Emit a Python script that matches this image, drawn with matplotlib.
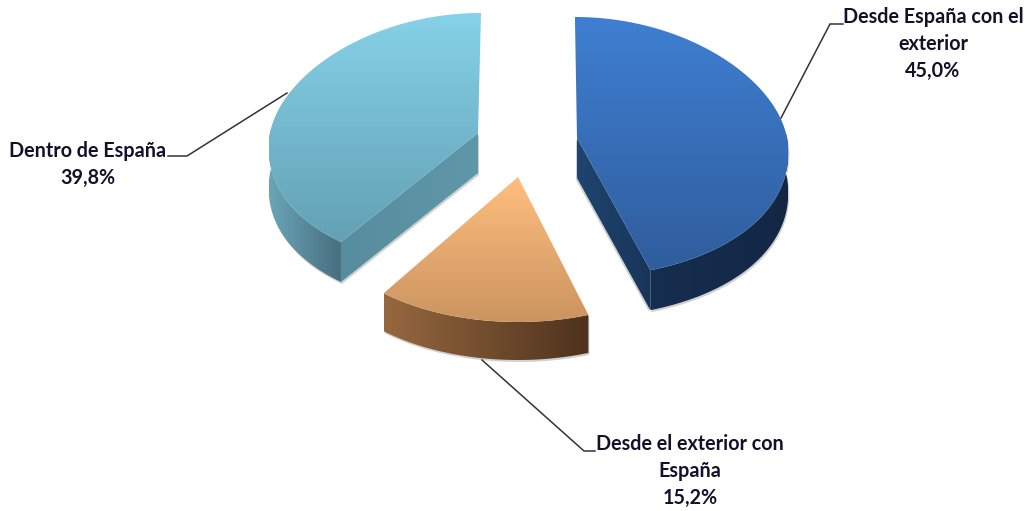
import matplotlib
matplotlib.use('Agg')
import matplotlib.pyplot as plt
import numpy as np
from matplotlib.colors import LinearSegmentedColormap
from matplotlib.patches import Polygon

# datos
etiquetas = ['Desde España con el\nexterior', 'Desde el exterior con\nEspaña', 'Dentro de España']
valores = [45.0, 15.2, 39.8]

# geometria de cada porcion (pixeles de la imagen)
centros = [(577, 138), (518, 177), (478, 133)]
radios_x = [210, 208, 208]
radios_y_arriba = [121, 121, 120]
radios_y_abajo = [139, 145, 136]
inclinacion = [-0.017, 0, 0.025]
fondo = [40, 38, 40]
perspectiva = 0.1

# colores: tapa (arriba, abajo), lado exterior (izq, der), pared del corte (izq, der)
tapas = [('#3F7FD2', '#2F5D9C'), ('#FFBE7E', '#CB9460'), ('#86D2E8', '#63A0B4')]
lados = [('#162E50', '#132745'), ('#96683F', '#4E321D'), ('#6BA5B8', '#466E7E')]
paredes = [('#1F4570', '#183558'), None, ('#578C9E', '#5F98AA')]

fig = plt.figure(figsize=(10.31, 5.11), dpi=100)
ax = fig.add_axes([0, 0, 1, 1])


def punto(i, t):
    cx, cy = centros[i]
    ry = np.where(np.cos(t) > 0, radios_y_arriba[i], radios_y_abajo[i])
    factor = 1 - perspectiva * np.cos(t)
    yy = cy - ry * np.cos(t)
    return cx + radios_x[i] * np.sin(t) * factor + inclinacion[i] * (cy - yy), yy


def degradado(pts, c1, c2, horizontal, zorder):
    pts = np.array(pts)
    cmap = LinearSegmentedColormap.from_list('g', [c1, c2])
    grad = np.linspace(0, 1, 256)
    grad = grad.reshape(1, -1) if horizontal else grad.reshape(-1, 1)
    x0, x1, y0, y1 = pts[:, 0].min(), pts[:, 0].max(), pts[:, 1].min(), pts[:, 1].max()
    im = ax.imshow(grad, cmap=cmap, extent=(x0, x1, y1, y0), aspect='auto', origin='upper',
                   zorder=zorder, interpolation='bilinear')
    parche = Polygon(pts, closed=True, transform=ax.transData, fc='none', ec='none')
    ax.add_patch(parche)
    im.set_clip_path(parche)


fracciones = np.cumsum([0] + valores) / sum(valores) * 2 * np.pi

for i in range(len(valores)):
    ini, fin = fracciones[i], fracciones[i + 1]
    t = np.linspace(ini, fin, 200)
    x, y = punto(i, t)
    cx, cy = centros[i]
    d = fondo[i]
    tapa = [(cx, cy)] + list(zip(x, y))

    # parte visible del lado: solo donde el arco mira hacia abajo
    vis = np.cos(t) < 0.05
    xv, yv = x[vis], y[vis]
    lado = list(zip(xv, yv)) + list(zip(xv[::-1], yv[::-1] + d))

    # sombra suave
    ax.add_patch(Polygon([(a + 1, b + 2) for a, b in lado], closed=True, fc='#999999', ec='none', alpha=0.45, zorder=1))

    degradado(lado, lados[i][0], lados[i][1], True, 2)
    if paredes[i] is not None:
        # pared plana que deja ver el corte hacia el centro
        if i == 0:
            px, py = x[-1], y[-1]
        else:
            px, py = x[0], y[0]
        pared = [(cx, cy), (px, py), (px, py + d), (cx, cy + d)]
        ax.add_patch(Polygon([(a + 1 * (1 if i == 2 else -1), b + 2) for a, b in pared], closed=True, fc='#999999', ec='none', alpha=0.45, zorder=1))
        degradado(pared, paredes[i][0], paredes[i][1], True, 3)
    degradado(tapa, tapas[i][0], tapas[i][1], False, 4)

# lineas guia
guias_x = [[843, 830, 781], [595, 584, 482], [168, 187, 287]]
guias_y = [[24, 24, 118], [451, 451, 360], [156, 156, 93]]
for gx, gy in zip(guias_x, guias_y):
    ax.plot(gx, gy, color='#333333', lw=1.1, zorder=5)

# textos
fuente = dict(family='Lato', weight='bold', fontsize=14.2, color='#14102a', ha='center', va='center', zorder=6)
textos_x = [933, 690, 88]
textos_y = [[17, 44, 71], [444, 471, 498], [151, 178]]
for i, etq in enumerate(etiquetas):
    lineas = etq.split('\n') + [f'{valores[i]:.1f}%'.replace('.', ',')]
    for linea, yy in zip(lineas, textos_y[i]):
        ax.text(textos_x[i], yy, linea, **fuente)

ax.set_xlim(0, 1031)
ax.set_ylim(511, 0)
ax.axis('off')
fig.savefig('out.png', dpi=100, facecolor='white')
